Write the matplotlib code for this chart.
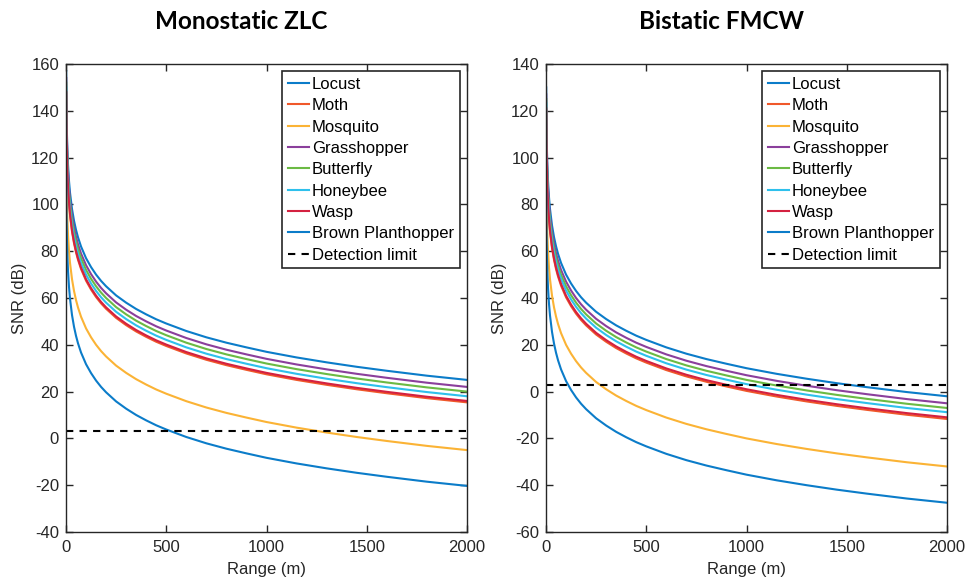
import matplotlib
matplotlib.use("Agg")
import matplotlib.pyplot as plt

plt.rcParams['font.family'] = ['Liberation Sans', 'DejaVu Sans']
plt.rcParams['axes.unicode_minus'] = False

# Range samples (m)
ranges = [1, 2, 3, 5, 7, 10, 15, 20, 30, 40, 50, 60, 75, 100, 125, 150, 175, 200, 250,
          300, 350, 400, 450, 500, 600, 700, 800, 900, 1000, 1150, 1300, 1450, 1600, 1800, 2000]

species = ["Locust", "Moth", "Mosquito", "Grasshopper", "Butterfly", "Honeybee", "Wasp", "Brown Planthopper"]
colors = ["#0B7CC9", "#F0582A", "#FBB335", "#8B3F9C", "#6BBA44", "#2EC0EC", "#D42140", "#0B7CC9"]

# Monostatic ZLC SNR (dB)
mono_locust = [157.0, 145.0, 138.0, 129.1, 123.2, 117.0, 110.0, 105.0, 98.0, 93.0, 89.1, 85.9, 82.0, 77.0, 73.2, 70.0, 67.3, 65.0, 61.1, 58.0, 55.3, 53.0, 50.9, 49.1, 45.9, 43.2, 40.9, 38.9, 37.0, 34.6, 32.5, 30.6, 28.9, 26.8, 25.0]
mono_moth = [147.4, 135.4, 128.4, 119.5, 113.6, 107.4, 100.4, 95.4, 88.4, 83.4, 79.5, 76.3, 72.4, 67.4, 63.6, 60.4, 57.7, 55.4, 51.5, 48.4, 45.7, 43.4, 41.3, 39.5, 36.3, 33.6, 31.3, 29.3, 27.4, 25.0, 22.9, 21.0, 19.3, 17.2, 15.4]
mono_mosquito = [127.0, 115.0, 108.0, 99.1, 93.2, 87.0, 80.0, 75.0, 68.0, 63.0, 59.1, 55.9, 52.0, 47.0, 43.2, 40.0, 37.3, 35.0, 31.1, 28.0, 25.3, 23.0, 20.9, 19.1, 15.9, 13.2, 10.9, 8.9, 7.0, 4.6, 2.5, 0.6, -1.1, -3.2, -5.0]
mono_grasshopper = [154.0, 142.0, 135.0, 126.1, 120.2, 114.0, 107.0, 102.0, 95.0, 90.0, 86.1, 82.9, 79.0, 74.0, 70.2, 67.0, 64.3, 62.0, 58.1, 55.0, 52.3, 50.0, 47.9, 46.1, 42.9, 40.2, 37.9, 35.9, 34.0, 31.6, 29.5, 27.6, 25.9, 23.8, 22.0]
mono_butterfly = [152.0, 140.0, 133.0, 124.1, 118.2, 112.0, 105.0, 100.0, 93.0, 88.0, 84.1, 80.9, 77.0, 72.0, 68.2, 65.0, 62.3, 60.0, 56.1, 53.0, 50.3, 48.0, 45.9, 44.1, 40.9, 38.2, 35.9, 33.9, 32.0, 29.6, 27.5, 25.6, 23.9, 21.8, 20.0]
mono_honeybee = [150.0, 138.0, 131.0, 122.1, 116.2, 110.0, 103.0, 98.0, 91.0, 86.0, 82.1, 78.9, 75.0, 70.0, 66.2, 63.0, 60.3, 58.0, 54.1, 51.0, 48.3, 46.0, 43.9, 42.1, 38.9, 36.2, 33.9, 31.9, 30.0, 27.6, 25.5, 23.6, 21.9, 19.8, 18.0]
mono_wasp = [148.0, 136.0, 129.0, 120.1, 114.2, 108.0, 101.0, 96.0, 89.0, 84.0, 80.1, 76.9, 73.0, 68.0, 64.2, 61.0, 58.3, 56.0, 52.1, 49.0, 46.3, 44.0, 41.9, 40.1, 36.9, 34.2, 31.9, 29.9, 28.0, 25.6, 23.5, 21.6, 19.9, 17.8, 16.0]
mono_bph = [111.7, 99.7, 92.7, 83.8, 77.9, 71.7, 64.7, 59.7, 52.7, 47.7, 43.8, 40.6, 36.7, 31.7, 27.9, 24.7, 22.0, 19.7, 15.8, 12.7, 10.0, 7.7, 5.6, 3.8, 0.6, -2.1, -4.4, -6.4, -8.3, -10.7, -12.8, -14.7, -16.4, -18.5, -20.3]

# Bistatic FMCW SNR (dB)
bi_locust = [130.0, 118.0, 111.0, 102.1, 96.2, 90.0, 83.0, 78.0, 71.0, 66.0, 62.1, 58.9, 55.0, 50.0, 46.2, 43.0, 40.3, 38.0, 34.1, 31.0, 28.3, 26.0, 23.9, 22.1, 18.9, 16.2, 13.9, 11.9, 10.0, 7.6, 5.5, 3.6, 1.9, -0.2, -2.0]
bi_moth = [120.3, 108.3, 101.3, 92.4, 86.5, 80.3, 73.3, 68.3, 61.3, 56.3, 52.4, 49.2, 45.3, 40.3, 36.5, 33.3, 30.6, 28.3, 24.4, 21.3, 18.6, 16.3, 14.2, 12.4, 9.2, 6.5, 4.2, 2.2, 0.3, -2.1, -4.2, -6.1, -7.8, -9.9, -11.7]
bi_mosquito = [100.0, 88.0, 81.0, 72.1, 66.2, 60.0, 53.0, 48.0, 41.0, 36.0, 32.1, 28.9, 25.0, 20.0, 16.2, 13.0, 10.3, 8.0, 4.1, 1.0, -1.7, -4.0, -6.1, -7.9, -11.1, -13.8, -16.1, -18.1, -20.0, -22.4, -24.5, -26.4, -28.1, -30.2, -32.0]
bi_grasshopper = [127.0, 115.0, 108.0, 99.1, 93.2, 87.0, 80.0, 75.0, 68.0, 63.0, 59.1, 55.9, 52.0, 47.0, 43.2, 40.0, 37.3, 35.0, 31.1, 28.0, 25.3, 23.0, 20.9, 19.1, 15.9, 13.2, 10.9, 8.9, 7.0, 4.6, 2.5, 0.6, -1.1, -3.2, -5.0]
bi_butterfly = [125.0, 113.0, 106.0, 97.1, 91.2, 85.0, 78.0, 73.0, 66.0, 61.0, 57.1, 53.9, 50.0, 45.0, 41.2, 38.0, 35.3, 33.0, 29.1, 26.0, 23.3, 21.0, 18.9, 17.1, 13.9, 11.2, 8.9, 6.9, 5.0, 2.6, 0.5, -1.4, -3.1, -5.2, -7.0]
bi_honeybee = [123.2, 111.2, 104.2, 95.3, 89.4, 83.2, 76.2, 71.2, 64.2, 59.2, 55.3, 52.1, 48.2, 43.2, 39.4, 36.2, 33.5, 31.2, 27.3, 24.2, 21.5, 19.2, 17.1, 15.3, 12.1, 9.4, 7.1, 5.1, 3.2, 0.8, -1.3, -3.2, -4.9, -7.0, -8.8]
bi_wasp = [121.0, 109.0, 102.0, 93.1, 87.2, 81.0, 74.0, 69.0, 62.0, 57.0, 53.1, 49.9, 46.0, 41.0, 37.2, 34.0, 31.3, 29.0, 25.1, 22.0, 19.3, 17.0, 14.9, 13.1, 9.9, 7.2, 4.9, 2.9, 1.0, -1.4, -3.5, -5.4, -7.1, -9.2, -11.0]
bi_bph = [84.5, 72.5, 65.5, 56.6, 50.7, 44.5, 37.5, 32.5, 25.5, 20.5, 16.6, 13.4, 9.5, 4.5, 0.7, -2.5, -5.2, -7.5, -11.4, -14.5, -17.2, -19.5, -21.6, -23.4, -26.6, -29.3, -31.6, -33.6, -35.5, -37.9, -40.0, -41.9, -43.6, -45.7, -47.5]

detection_limit = 3.0
x_limits = [0, 2000]
x_ticks = [0, 500, 1000, 1500, 2000]
mono_yticks = list(range(-40, 161, 20))
bi_yticks = list(range(-60, 141, 20))

panels = [
    ("Monostatic ZLC", [mono_locust, mono_moth, mono_mosquito, mono_grasshopper,
                        mono_butterfly, mono_honeybee, mono_wasp, mono_bph], mono_yticks),
    ("Bistatic FMCW", [bi_locust, bi_moth, bi_mosquito, bi_grasshopper,
                       bi_butterfly, bi_honeybee, bi_wasp, bi_bph], bi_yticks),
]

txt = '#262626'
fig = plt.figure(figsize=(9.65, 5.84), dpi=100)
lefts = [66 / 965, 546 / 965]
for (title, series, yticks), left in zip(panels, lefts):
    ax = fig.add_axes([left, 52 / 584, 401 / 965, 468 / 584])
    for name, vals, col in zip(species, series, colors):
        ax.plot(ranges, vals, color=col, lw=1.5, label=name)
    ax.plot(x_limits, [detection_limit, detection_limit], color='k', ls='--', lw=1.5,
            dashes=(3.5, 3), label="Detection limit")
    ax.set_xlim(x_limits)
    ax.set_ylim(yticks[0], yticks[-1])
    ax.set_xticks(x_ticks)
    ax.set_yticks(yticks)
    ax.tick_params(direction='in', top=True, right=True, labelsize=12,
                   length=5, width=1, colors=txt, labelcolor=txt)
    ax.tick_params(axis='x', pad=6)
    ax.tick_params(axis='y', pad=5)
    for sp in ax.spines.values():
        sp.set_linewidth(1.0)
        sp.set_color(txt)
    ax.set_xlabel("Range (m)", fontsize=12, color=txt, labelpad=5)
    ax.set_ylabel("SNR (dB)", fontsize=12, color=txt, labelpad=3)
    ax.set_title(title, fontsize=17.5, fontweight='bold', family=['Lato', 'DejaVu Sans'],
                 pad=25, x=0.4377)
    leg = ax.legend(loc='upper right', bbox_to_anchor=(0.982, 0.985), fontsize=12,
                    frameon=True, fancybox=False, framealpha=1, edgecolor=txt,
                    handlelength=1.3, handletextpad=0.15, labelspacing=0.38,
                    borderpad=0.35, borderaxespad=0.0)
    leg.get_frame().set_linewidth(1.2)

fig.savefig("out.png", dpi=100)
